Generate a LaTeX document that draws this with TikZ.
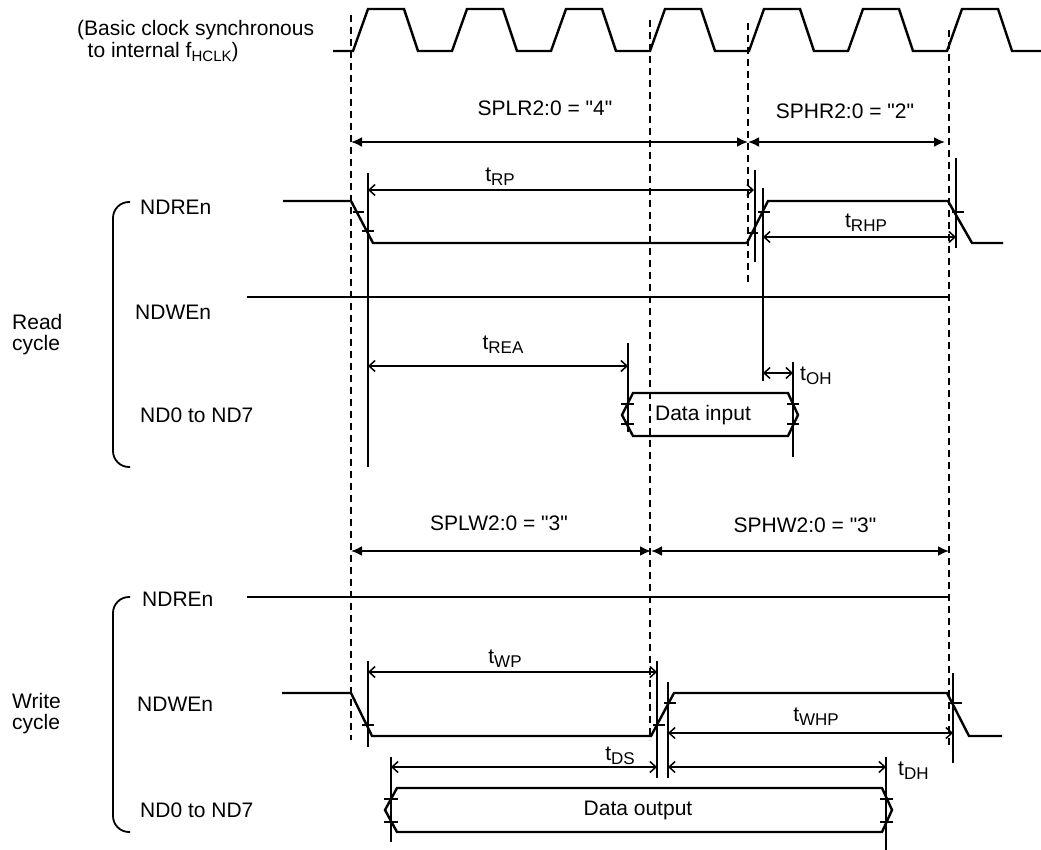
\documentclass[tikz,border=0pt]{standalone}
\usepackage{fontspec}
\setmainfont{Liberation Sans}
\usetikzlibrary{arrows.meta,positioning}
\newcommand{\lowsub}[1]{\raisebox{-0.35ex}{\fontsize{17}{17}\selectfont #1}}
\newcommand{\tsym}[1]{t\lowsub{#1}}
\newcommand{\qq}[1]{\textquotedbl#1\textquotedbl}

\begin{document}
\begin{tikzpicture}[x=1pt,y=-1pt,
  every node/.style={inner sep=0pt,font=\fontsize{21}{21}\selectfont},
  sig/.style={line width=2.4pt,line join=miter},
  edgemark/.style={line width=1.8pt},
  refline/.style={line width=1.8pt},
  gridline/.style={line width=1.6pt,dash pattern=on 7pt off 5pt},
  spanarrow/.style={line width=2pt,{Latex[length=11pt,width=10pt]}-{Latex[length=11pt,width=10pt]}},
  tarrow/.style={line width=1.5pt,{Straight Barb[length=6pt,width=11pt]}-{Straight Barb[length=6pt,width=11pt]}}]
\useasboundingbox (0,0) rectangle (1041,850);

\draw[sig] (333,51) foreach \k in {0,...,6}{ -- ({353+99*\k},51) -- ({368+99*\k},9) -- ({404+99*\k},9) -- ({418+99*\k},51)} -- (1041,51);
\node[anchor=west,align=left] (clklbl) at (77,41) {(Basic clock synchronous\\[1pt]\hspace{0.5em}to internal f\lowsub{\fontsize{15}{15}\selectfont HCLK})};

\foreach \x/\ya/\yb in {351/15/740,650/20/740,748/23/283,949/30/747}{
\draw[gridline] (\x,\ya)--(\x,\yb);
}

\draw[spanarrow] (351,142)--(748,142);
\draw[spanarrow] (748,142)--(945,142);
\node (splr) at (545,108) {SPLR2:0 = \qq{4}};
\node (sphr) at (845,111) {SPHR2:0 = \qq{2}};

\draw[sig] (283,201) -- (351,201) -- (373,243) -- (747,243) -- (768,201) -- (948,201) -- (972,243) -- (1003,243);
\draw[sig] (247,297) -- (949,297);
\draw[sig] (633,393) -- (788,393) -- (798,415) -- (788,436) -- (633,436) -- (622,415) -- cycle;
\foreach \xa/\xb/\y in {353/364/212,362/374/231,747/758/233,758/770/212,952/964/212,621/634/404,621/634/424,787/799/404,787/799/424}{
\draw[edgemark] (\xa,\y)--(\xb,\y);
}
\foreach \x/\ya/\yb in {368/173/467,755/170/262,763/188/381,956/158/248,628/343/432,793/362/457}{
\draw[refline] (\x,\ya)--(\x,\yb);
}
\draw[tarrow] (368,190)--(754,190);
\draw[tarrow] (763,237)--(956,237);
\draw[tarrow] (368,366)--(628,366);
\draw[tarrow] (763,373)--(793,373);
\node (trp) at (500,177) {\tsym{RP}};
\node (trhp) at (866,223) {\tsym{RHP}};
\node (trea) at (503,345) {\tsym{REA}};
\node[anchor=west] (toh) at (800,376) {\tsym{OH}};
\node (rdin) at (703,415) {Data input};

\node[anchor=west] (rdre) at (140,207) {NDREn};
\node[anchor=west] (rdwe) at (135,312) {NDWEn};
\node[anchor=west] (rdbus) at (140,415) {ND0 to ND7};
\node[anchor=west,align=left] (rdcyc) at (12,335) {Read\\cycle};
\draw[refline,rounded corners=16pt] (130,202) -- (113,202) -- (113,467) -- (130,467);

\draw[spanarrow] (351,551)--(651,551);
\draw[spanarrow] (651,551)--(949,551);
\node (splw) at (499,523) {SPLW2:0 = \qq{3}};
\node (sphw) at (805,525) {SPHW2:0 = \qq{3}};

\draw[sig] (247,597) -- (949,597);
\draw[sig] (282,693) -- (351,693) -- (372,736) -- (651,736) -- (674,693) -- (947,693) -- (969,736) -- (1002,736);
\draw[sig] (397,788) -- (882,788) -- (892,810) -- (882,832) -- (397,832) -- (385,810) -- cycle;
\foreach \xa/\xb/\y in {362/374/725,653/665/725,664/676/703,950/962/703,384/398/799,384/398/822,880/893/799,880/893/822}{
\draw[edgemark] (\xa,\y)--(\xb,\y);
}
\foreach \x/\ya/\yb in {368/661/747,657/661/778,668/682/778,953/673/763,391/757/842,886/757/850}{
\draw[refline] (\x,\ya)--(\x,\yb);
}
\draw[tarrow] (368,672)--(657,672);
\draw[tarrow] (668,733)--(953,733);
\draw[tarrow] (391,767)--(657,767);
\draw[tarrow] (668,767)--(886,767);
\node (twp) at (505,659) {\tsym{WP}};
\node (twhp) at (816,717) {\tsym{WHP}};
\node (tds) at (620,756) {\tsym{DS}};
\node[anchor=west] (tdh) at (898,771) {\tsym{DH}};
\node (wrout) at (638,810) {Data output};

\node[anchor=west] (wrre) at (142,599) {NDREn};
\node[anchor=west] (wrwe) at (137,704) {NDWEn};
\node[anchor=west] (wrbus) at (140,810) {ND0 to ND7};
\node[anchor=west,align=left] (wrcyc) at (12,714) {Write\\cycle};
\draw[refline,rounded corners=16pt] (130,597) -- (113,597) -- (113,832) -- (130,832);
\end{tikzpicture}
\end{document}
